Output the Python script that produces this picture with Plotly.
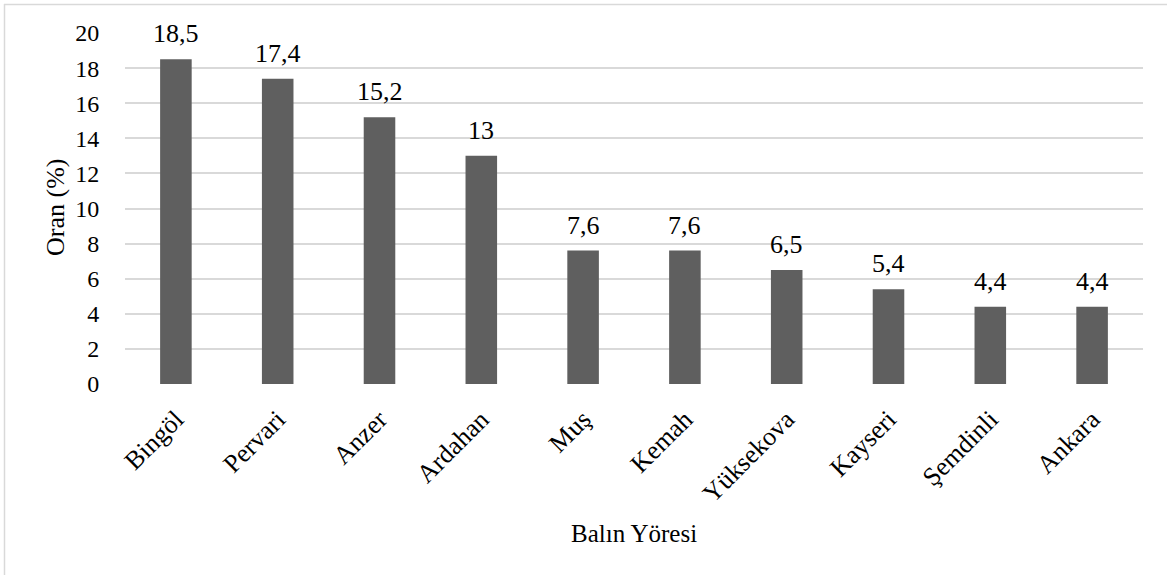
import plotly.graph_objects as go

categories = ["Bingöl", "Pervari", "Anzer", "Ardahan", "Muş", "Kemah", "Yüksekova", "Kayseri", "Şemdinli", "Ankara"]
values = [18.5, 17.4, 15.2, 13, 7.6, 7.6, 6.5, 5.4, 4.4, 4.4]
y_ticks = [0, 2, 4, 6, 8, 10, 12, 14, 16, 18, 20]

labels = [f"{v:g}".replace(".", ",") for v in values]

FONT = "Times New Roman, Liberation Serif, serif"
FS = 25

fig = go.Figure(go.Bar(
    x=categories, y=values,
    marker=dict(color="#5f5f5f", line=dict(width=0)),
    width=0.31, cliponaxis=False, hoverinfo="x+y",
))

W, H = 1167, 575
L, R, T, B = 125, 24, 33, 191
pw, ph = W - L - R, H - T - B

annotations = [
    dict(x=c, y=v, xref="x", yref="y", text=t, showarrow=False, xanchor="center",
         yanchor="bottom", yshift=9, font=dict(family=FONT, size=26, color="#000000"))
    for c, v, t in zip(categories, values, labels)
]
annotations += [
    dict(text="Oran (%)", xref="paper", yref="paper", x=(55 - L) / pw, y=(H - B - 208) / ph,
         xanchor="center", yanchor="middle", textangle=-90, showarrow=False,
         font=dict(family=FONT, size=26, color="#000000")),
    dict(text="Balın Yöresi", xref="paper", yref="paper", x=(634 - L) / pw, y=-(533 - (H - B)) / ph,
         xanchor="center", yanchor="middle", showarrow=False,
         font=dict(family=FONT, size=25, color="#000000")),
]

fig.update_layout(
    width=W, height=H,
    margin=dict(l=L, r=R, t=T, b=B),
    paper_bgcolor="white", plot_bgcolor="white",
    font=dict(family=FONT, size=FS, color="#000000"),
    showlegend=False,
    xaxis=dict(
        tickangle=-45, showgrid=False, zeroline=False, showline=False,
        ticks="", ticklabelstandoff=14, tickfont=dict(family=FONT, size=26),
    ),
    yaxis=dict(
        range=[0, 20], tickvals=y_ticks, showgrid=True, gridcolor="#d9d9d9", gridwidth=1.5,
        zeroline=False, showline=False, ticks="outside", ticklen=20, tickcolor="rgba(0,0,0,0)",
        tickfont=dict(family=FONT, size=24),
    ),
    annotations=annotations,
    shapes=[
        dict(type="line", xref="paper", yref="paper", x0=(4 - L) / pw, x1=(W + 5 - L) / pw,
             y0=1 + (T - 4.5) / ph, y1=1 + (T - 4.5) / ph, line=dict(color="#d9d9d9", width=1.5)),
        dict(type="line", xref="paper", yref="paper", x0=(4.5 - L) / pw, x1=(4.5 - L) / pw,
             y0=1 + (T - 4) / ph, y1=-(B + 5) / ph, line=dict(color="#d9d9d9", width=1.5)),
    ],
)

fig.write_html("out.html")
